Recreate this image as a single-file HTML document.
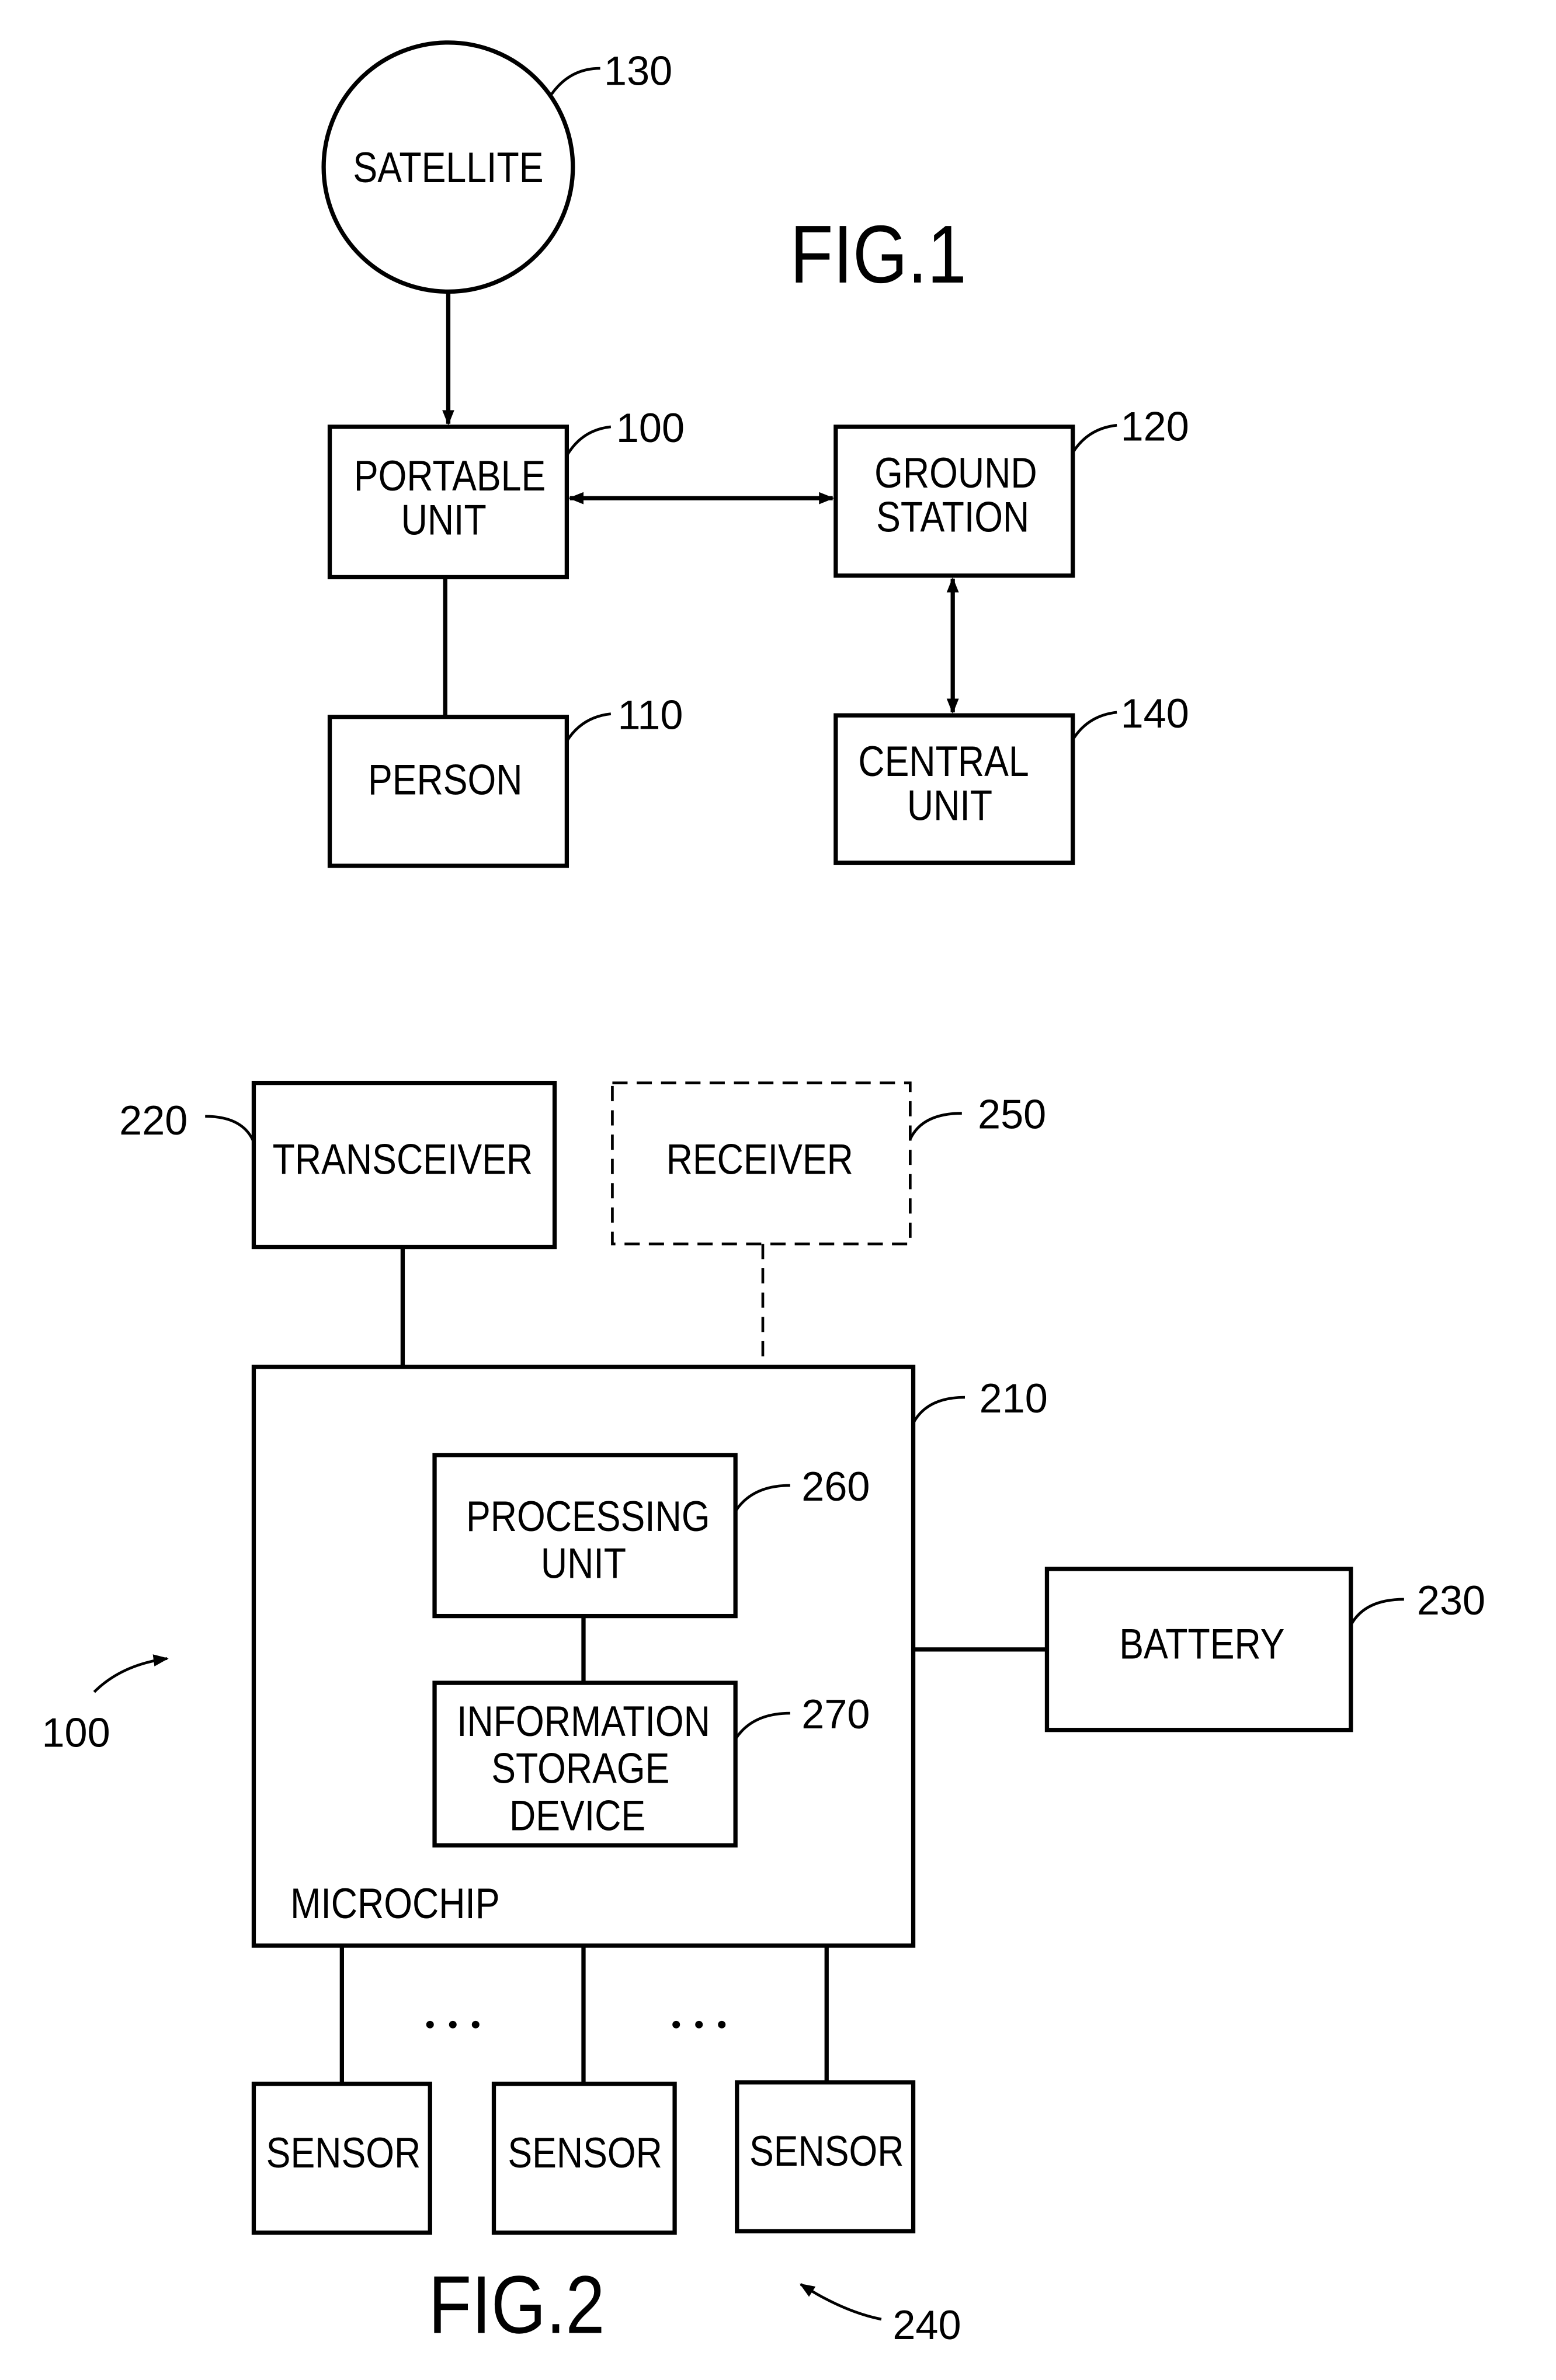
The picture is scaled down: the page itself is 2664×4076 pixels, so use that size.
<!DOCTYPE html>
<html><head><style>
html,body{margin:0;padding:0;background:#fff;}
svg{display:block}
text{font-family:"Liberation Sans",sans-serif;fill:#000;}
.c text{transform-box:fill-box;transform-origin:center;transform:scaleX(0.86);}
</style></head><body>
<svg width="2664" height="4076" viewBox="0 0 1024 1567" preserveAspectRatio="none" xmlns="http://www.w3.org/2000/svg">
<defs>
<marker id="ah" markerWidth="10" markerHeight="10" refX="9" refY="5" orient="auto-start-reverse" markerUnits="userSpaceOnUse"><path d="M0,1 L10,5 L0,9 Z" fill="#000"/></marker>
</defs>
<g fill="none" stroke="#000" stroke-width="2.8">
<ellipse cx="295" cy="110" rx="82" ry="82"/>
<path d="M363,62 Q375,45 395,45" stroke-width="1.8"/>
<line x1="295" y1="192" x2="295" y2="279" marker-end="url(#ah)"/>
<rect x="217" y="281" width="156" height="99"/>
<path d="M373,300 Q383,283 402,281" stroke-width="1.8"/>
<line x1="375" y1="328" x2="548" y2="328" marker-start="url(#ah)" marker-end="url(#ah)"/>
<rect x="550" y="281" width="156" height="98"/>
<path d="M706,298 Q716,282 735,280" stroke-width="1.8"/>
<line x1="293" y1="380" x2="293" y2="472"/>
<rect x="217" y="472" width="156" height="98"/>
<path d="M373,488 Q383,472 402,470" stroke-width="1.8"/>
<line x1="627" y1="381" x2="627" y2="469" marker-start="url(#ah)" marker-end="url(#ah)"/>
<rect x="550" y="471" width="156" height="97"/>
<path d="M706,487 Q716,471 735,469" stroke-width="1.8"/>

<rect x="167" y="713" width="198" height="108"/>
<path d="M135,735 Q160,735 167,752" stroke-width="1.8"/>
<rect x="403" y="713" width="196" height="106" stroke-dasharray="10,6" stroke-width="1.8"/>
<path d="M599,750 Q607,733 633,733" stroke-width="1.8"/>
<line x1="265" y1="821" x2="265" y2="900"/>
<line x1="502" y1="819" x2="502" y2="900" stroke-dasharray="10,6" stroke-width="1.8"/>
<rect x="167" y="900" width="434" height="381"/>
<path d="M601,937 Q610,920 635,920" stroke-width="1.8"/>
<rect x="286" y="958" width="198" height="106"/>
<path d="M484,995 Q495,978 520,978" stroke-width="1.8"/>
<line x1="384" y1="1064" x2="384" y2="1108"/>
<rect x="286" y="1108" width="198" height="107"/>
<path d="M484,1145 Q495,1128 520,1128" stroke-width="1.8"/>
<line x1="601" y1="1086" x2="689" y2="1086"/>
<rect x="689" y="1033" width="200" height="106"/>
<path d="M889,1070 Q898,1053 924,1053" stroke-width="1.8"/>
<path d="M62,1114 Q80,1096 110,1092" stroke-width="1.8" marker-end="url(#ah)"/>
<line x1="225" y1="1281" x2="225" y2="1372"/>
<line x1="384" y1="1281" x2="384" y2="1372"/>
<line x1="544" y1="1281" x2="544" y2="1372"/>
<rect x="167" y="1372" width="116" height="98"/>
<rect x="325" y="1372" width="119" height="98"/>
<rect x="485" y="1371" width="116" height="98"/>
<path d="M580,1527 Q555,1522 527,1504" stroke-width="1.8" marker-end="url(#ah)"/>
</g>
<g fill="#000">
<circle cx="283" cy="1333" r="2.5"/><circle cx="298" cy="1333" r="2.5"/><circle cx="313" cy="1333" r="2.5"/>
<circle cx="445" cy="1333" r="2.5"/><circle cx="460" cy="1333" r="2.5"/><circle cx="475" cy="1333" r="2.5"/>
</g>
<g font-size="28" text-anchor="middle" class="c">
<text x="295" y="120">SATELLITE</text>
<text x="296" y="323">PORTABLE</text>
<text x="292" y="352">UNIT</text>
<text x="629" y="321">GROUND</text>
<text x="627" y="350">STATION</text>
<text x="293" y="523">PERSON</text>
<text x="621" y="511">CENTRAL</text>
<text x="625" y="540">UNIT</text>
<text x="265" y="773">TRANSCEIVER</text>
<text x="500" y="773">RECEIVER</text>
<text x="387" y="1008">PROCESSING</text>
<text x="384" y="1039">UNIT</text>
<text x="384" y="1143">INFORMATION</text>
<text x="382" y="1174">STORAGE</text>
<text x="380" y="1205">DEVICE</text>
<text x="791" y="1092">BATTERY</text>
<text x="226" y="1427">SENSOR</text>
<text x="385" y="1427">SENSOR</text>
<text x="544" y="1426">SENSOR</text>
<text x="260" y="1263">MICROCHIP</text>
</g>
<g font-size="27" text-anchor="middle">
<text x="420" y="56">130</text>
<text x="428" y="291">100</text>
<text x="760" y="290">120</text>
<text x="428" y="480">110</text>
<text x="760" y="479">140</text>
<text x="101" y="747">220</text>
<text x="666" y="743">250</text>
<text x="667" y="930">210</text>
<text x="550" y="988">260</text>
<text x="550" y="1138">270</text>
<text x="955" y="1063">230</text>
<text x="50" y="1150">100</text>
<text x="610" y="1540">240</text>
</g>
<g font-size="54" text-anchor="middle" class="c">
<text x="578" y="186">FIG.1</text>
<text x="340" y="1536">FIG.2</text>
</g>
</svg>
</body></html>
